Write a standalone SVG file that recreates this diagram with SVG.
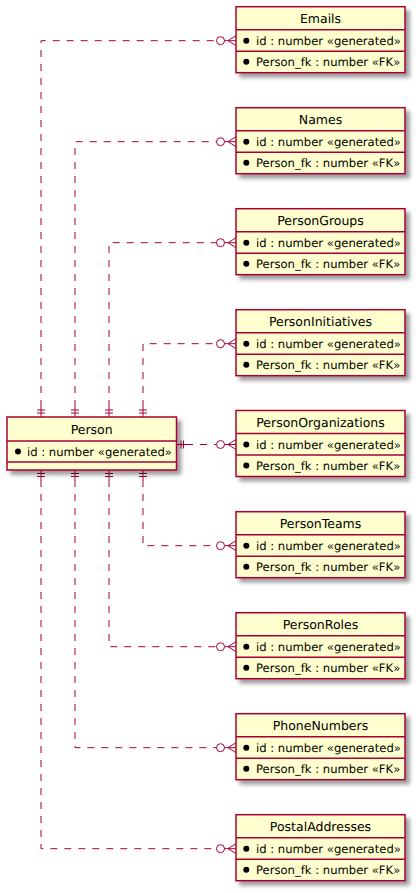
<svg xmlns="http://www.w3.org/2000/svg" width="418" height="893" viewBox="0 0 418 893">
<defs>
<filter id="sh" x="-10%" y="-10%" width="130%" height="140%">
<feGaussianBlur in="SourceAlpha" stdDeviation="2.2"/>
<feOffset dx="4" dy="4" result="o"/>
<feComponentTransfer><feFuncA type="linear" slope="0.4"/></feComponentTransfer>
<feMerge><feMergeNode/><feMergeNode in="SourceGraphic"/></feMerge>
</filter>
<g id="ent">
<rect x="0" y="0" width="169" height="66" class="box" filter="url(#sh)"/>
<line x1="0" y1="23" x2="169" y2="23" class="sep"/>
<line x1="0" y1="44.5" x2="169" y2="44.5" class="sep"/>
<circle cx="10.3" cy="34" r="3" class="dot"/>
<circle cx="10.3" cy="55" r="3" class="dot"/>
<text x="20" y="38" class="attr">id : number «generated»</text>
<text x="20" y="59" class="attr">Person_fk : number «FK»</text>
</g>
<g id="crow">
<circle cx="-15.5" cy="0" r="4" class="zero"/>
<path d="M-11.5,0 H0 M-8,0 L0,-5 M-8,0 L0,5" class="solid"/>
</g>
</defs>
<style>
text{text-rendering:geometricPrecision}
.box{fill:#FEFECE;stroke:#A80036;stroke-width:1.5}
.sep{stroke:#A80036;stroke-width:1.5}
.dot{fill:#000}
.title{font-family:"DejaVu Sans",sans-serif;font-size:12.5px;fill:#000;text-anchor:middle}
.attr{font-family:"DejaVu Sans",sans-serif;font-size:11.6px;fill:#000}
.dash{fill:none;stroke:#A80036;stroke-width:1;stroke-dasharray:7,7}
.solid{fill:none;stroke:#A80036;stroke-width:1}
.zero{fill:#FFFFFF;stroke:#A80036;stroke-width:1}
</style>
<g id="connectors">
<path d="M41,407 V40.7 H220" class="dash"/>
<path d="M75,407 V141.7 H220" class="dash"/>
<path d="M109,407 V242.7 H220" class="dash"/>
<path d="M143,407 V343.7 H220" class="dash"/>
<path d="M186,444.5 H220" class="dash"/>
<path d="M143,480 V545.7 H220" class="dash"/>
<path d="M109,480 V646.7 H220" class="dash"/>
<path d="M75,480 V747.7 H220" class="dash"/>
<path d="M41,480 V848.7 H220" class="dash"/>
<path d="M41,407 V417 M37,410 H45 M37,413 H45" class="solid"/>
<path d="M75,407 V417 M71,410 H79 M71,413 H79" class="solid"/>
<path d="M109,407 V417 M105,410 H113 M105,413 H113" class="solid"/>
<path d="M143,407 V417 M139,410 H147 M139,413 H147" class="solid"/>
<path d="M41,470 V480 M37,473.5 H45 M37,476.5 H45" class="solid"/>
<path d="M75,470 V480 M71,473.5 H79 M71,476.5 H79" class="solid"/>
<path d="M109,470 V480 M105,473.5 H113 M105,476.5 H113" class="solid"/>
<path d="M143,470 V480 M139,473.5 H147 M139,476.5 H147" class="solid"/>
<path d="M176.5,444.5 H186 M181,440.5 V448.5 M183.5,440.5 V448.5" class="solid"/>
<use href="#crow" transform="translate(236,40.7)"/>
<use href="#crow" transform="translate(236,141.7)"/>
<use href="#crow" transform="translate(236,242.7)"/>
<use href="#crow" transform="translate(236,343.7)"/>
<use href="#crow" transform="translate(236,444.5)"/>
<use href="#crow" transform="translate(236,545.7)"/>
<use href="#crow" transform="translate(236,646.7)"/>
<use href="#crow" transform="translate(236,747.7)"/>
<use href="#crow" transform="translate(236,848.7)"/>
</g>
<g id="Person">
<rect x="7" y="417" width="169.5" height="53" class="box" filter="url(#sh)"/>
<line x1="7" y1="441" x2="176.5" y2="441" class="sep"/>
<line x1="7" y1="462" x2="176.5" y2="462" class="sep"/>
<text x="91.7" y="433.5" class="title">Person</text>
<circle cx="18" cy="451.5" r="3" class="dot"/>
<text x="27" y="455.5" class="attr">id : number «generated»</text>
</g>
<g id="Emails" transform="translate(236,6.7)"><use href="#ent"/><text x="84.5" y="16.8" class="title">Emails</text></g>
<g id="Names" transform="translate(236,107.7)"><use href="#ent"/><text x="84.5" y="16.8" class="title">Names</text></g>
<g id="PersonGroups" transform="translate(236,208.7)"><use href="#ent"/><text x="84.5" y="16.8" class="title">PersonGroups</text></g>
<g id="PersonInitiatives" transform="translate(236,309.7)"><use href="#ent"/><text x="84.5" y="16.8" class="title">PersonInitiatives</text></g>
<g id="PersonOrganizations" transform="translate(236,410.5)"><use href="#ent"/><text x="84.5" y="16.8" class="title">PersonOrganizations</text></g>
<g id="PersonTeams" transform="translate(236,511.7)"><use href="#ent"/><text x="84.5" y="16.8" class="title">PersonTeams</text></g>
<g id="PersonRoles" transform="translate(236,612.7)"><use href="#ent"/><text x="84.5" y="16.8" class="title">PersonRoles</text></g>
<g id="PhoneNumbers" transform="translate(236,713.7)"><use href="#ent"/><text x="84.5" y="16.8" class="title">PhoneNumbers</text></g>
<g id="PostalAddresses" transform="translate(236,814.7)"><use href="#ent"/><text x="84.5" y="16.8" class="title">PostalAddresses</text></g>
</svg>
